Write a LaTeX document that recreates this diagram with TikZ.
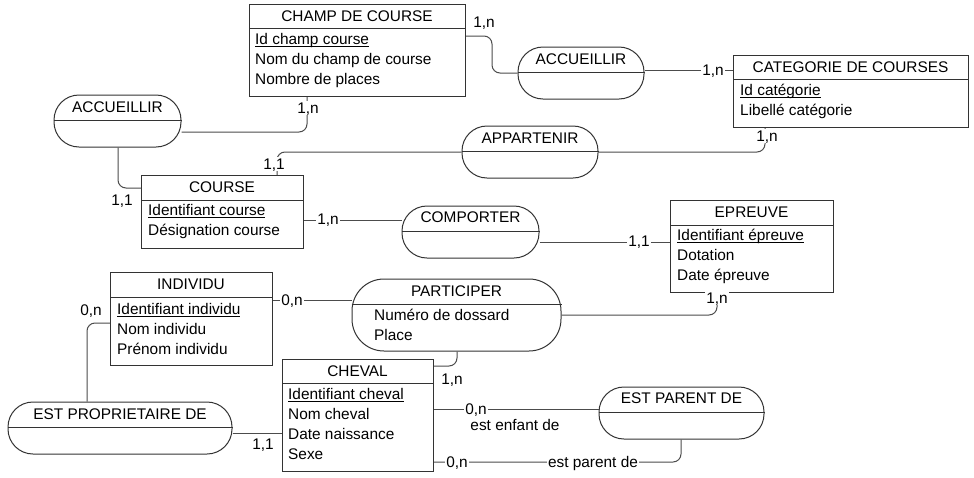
\documentclass[tikz,border=0pt]{standalone}
\usepackage{fontspec}
\setmainfont{Liberation Sans}
\newcommand\idul[1]{\setbox0\hbox{#1}\rlap{\rule[-2.3pt]{\wd0}{1pt}}\box0}
\begin{document}
\begin{tikzpicture}[x=1pt,y=-1pt,
  every node/.style={font=\fontsize{15.4}{20}\selectfont, text=black},
  shp/.style={draw=black!80, line width=1pt},
  ent/.style={shp, rectangle, inner sep=0pt, anchor=north west},
  asso/.style={shp, rectangle, rounded corners=25pt, inner sep=0pt},
  lnk/.style={draw=black!70, line width=1pt, rounded corners=8pt},
  ttl/.style={inner sep=0pt, text height=11pt, text depth=0pt},
  attr/.style={inner sep=0pt, anchor=west, text height=11pt, text depth=0pt},
  card/.style={fill=white, inner sep=1.2pt, text height=11pt, text depth=0pt},
  role/.style={inner sep=1.2pt, text height=11pt, text depth=0pt}]
\useasboundingbox (0,0) rectangle (974,477);
\fill[white] (0,0) rectangle (974,477);

% ---------- entities ----------
\node[ent, minimum width=216pt, minimum height=92pt] (champ) at (249,4) {};
\draw[shp] (champ.west |- 0,28) -- (champ.east |- 0,28);
\node[ttl] (champT) at (357,16) {CHAMP DE COURSE};
\node[attr] (champA) at (255,39) {\idul{Id champ course}};
\node[attr] (champB) at (255,59) {Nom du champ de course};
\node[attr] (champC) at (255,79) {Nombre de places};

\node[ent, minimum width=235pt, minimum height=72pt] (cat) at (733,55) {};
\draw[shp] (cat.west |- 0,79) -- (cat.east |- 0,79);
\node[ttl] (catT) at (850.5,67) {CATEGORIE DE COURSES};
\node[attr] (catA) at (740,90) {\idul{Id catégorie}};
\node[attr] (catB) at (740,110) {Libellé catégorie};

\node[ent, minimum width=162pt, minimum height=73pt] (course) at (141,175) {};
\draw[shp] (course.west |- 0,200) -- (course.east |- 0,200);
\node[ttl] (courseT) at (222,187) {COURSE};
\node[attr] (courseA) at (148,210) {\idul{Identifiant course}};
\node[attr] (courseB) at (148,230) {Désignation course};

\node[ent, minimum width=163pt, minimum height=92pt] (epr) at (670,200) {};
\draw[shp] (epr.west |- 0,225) -- (epr.east |- 0,225);
\node[ttl] (eprT) at (751.5,212) {EPREUVE};
\node[attr] (eprA) at (677,235) {\idul{Identifiant épreuve}};
\node[attr] (eprB) at (677,255) {Dotation};
\node[attr] (eprC) at (677,275) {Date épreuve};

\node[ent, minimum width=162pt, minimum height=93pt] (indiv) at (110,272) {};
\draw[shp] (indiv.west |- 0,297) -- (indiv.east |- 0,297);
\node[ttl] (indivT) at (191,284) {INDIVIDU};
\node[attr] (indivA) at (117,309) {\idul{Identifiant individu}};
\node[attr] (indivB) at (117,329) {Nom individu};
\node[attr] (indivC) at (117,349) {Prénom individu};

\node[ent, minimum width=151pt, minimum height=112pt] (chev) at (282,359) {};
\draw[shp] (chev.west |- 0,383) -- (chev.east |- 0,383);
\node[ttl] (chevT) at (357.5,371) {CHEVAL};
\node[attr] (chevA) at (288,394) {\idul{Identifiant cheval}};
\node[attr] (chevB) at (288,414) {Nom cheval};
\node[attr] (chevC) at (288,434) {Date naissance};
\node[attr] (chevD) at (288,454) {Sexe};

% ---------- associations ----------
\node[asso, minimum width=126pt, minimum height=52pt] (accR) at (581,73) {};
\draw[shp] (accR.west |- 0,72) -- (accR.east |- 0,72);
\node[ttl] (accRT) at (581,59) {ACCUEILLIR};

\node[asso, minimum width=127pt, minimum height=52pt] (accL) at (117.5,121) {};
\draw[shp] (accL.west |- 0,120) -- (accL.east |- 0,120);
\node[ttl] (accLT) at (117.5,107) {ACCUEILLIR};

\node[asso, minimum width=136pt, minimum height=52pt] (app) at (530,152) {};
\draw[shp] (app.west |- 0,151) -- (app.east |- 0,151);
\node[ttl] (appT) at (530,138) {APPARTENIR};

\node[asso, minimum width=137pt, minimum height=52pt] (comp) at (470.5,232) {};
\draw[shp] (comp.west |- 0,231) -- (comp.east |- 0,231);
\node[ttl] (compT) at (470.5,217) {COMPORTER};

\node[asso, rounded corners=32pt, minimum width=209pt, minimum height=72pt] (part) at (456.5,315) {};
\draw[shp] (part.west |- 0,304) -- (part.east |- 0,304);
\node[ttl] (partT) at (456.5,291) {PARTICIPER};
\node[attr] (partA) at (374,315) {Numéro de dossard};
\node[attr] (partB) at (374,335) {Place};

\node[asso, minimum width=224pt, minimum height=52pt] (estprop) at (120,428) {};
\draw[shp] (estprop.west |- 0,427) -- (estprop.east |- 0,427);
\node[ttl] (estpropT) at (120,414) {EST PROPRIETAIRE DE};

\node[asso, minimum width=165pt, minimum height=52pt] (estpar) at (681.5,413) {};
\draw[shp] (estpar.west |- 0,412) -- (estpar.east |- 0,412);
\node[ttl] (estparT) at (681.5,398) {EST PARENT DE};

% ---------- connectors ----------
\coordinate (k1) at (492,73);
\draw[lnk] (champ.east |- 0,36) -| (k1) -- (accR.west |- 0,73);
\node[card] (c1) at (484,22) {1,n};

\draw[lnk] (accR.east |- 0,70) -- (cat.west |- 0,70);
\node[card] (c2) at (713,70) {1,n};

\draw[lnk] (accL.east |- 0,132) -| (champ.south -| 307,0);
\node[card] (c3) at (308,108) {1,n};

\draw[lnk] (accL.south -| 118,0) |- (course.west |- 0,188);
\node[card] (c4) at (122,200) {1,1};

\draw[lnk] (app.west |- 0,152) -| (course.north -| 277,0);
\node[card] (c5) at (274,164) {1,1};

\draw[lnk] (app.east |- 0,152) -| (cat.south -| 765,0);
\node[card] (c6) at (767,136) {1,n};

\draw[lnk] (course.east |- 0,220) -- (comp.west |- 0,220);
\node[card] (c7) at (328,219) {1,n};

\draw[lnk] (comp.east |- 0,242) -- (epr.west |- 0,242);
\node[card] (c8) at (639,241) {1,1};

\draw[lnk] (part.east |- 0,315) -| (epr.south -| 717,0);
\node[card] (c9) at (717,298) {1,n};

\draw[lnk] (indiv.east |- 0,300) -- (part.west |- 0,300);
\node[card] (c10) at (292,300) {0,n};

\draw[lnk] (part.south -| 457,0) |- (chev.east |- 0,366);
\node[card] (c11) at (452,379) {1,n};

\draw[lnk] (indiv.west |- 0,323) -| (estprop.north -| 87,0);
\node[card] (c12) at (91,310) {0,n};

\draw[lnk] (estprop.east |- 0,433) -- (chev.west |- 0,433);
\node[card] (c13) at (263,444) {1,1};

\draw[lnk] (chev.east |- 0,409) -- (estpar.west |- 0,409);
\node[card] (c14) at (476,409) {0,n};
\node[role] (r1) at (515,425) {est enfant de};

\draw[lnk] (chev.east |- 0,462) -| (estpar.south -| 681,0);
\node[card] (c15) at (457,462) {0,n};
\node[card] (r2) at (593,462) {est parent de};
\end{tikzpicture}
\end{document}
